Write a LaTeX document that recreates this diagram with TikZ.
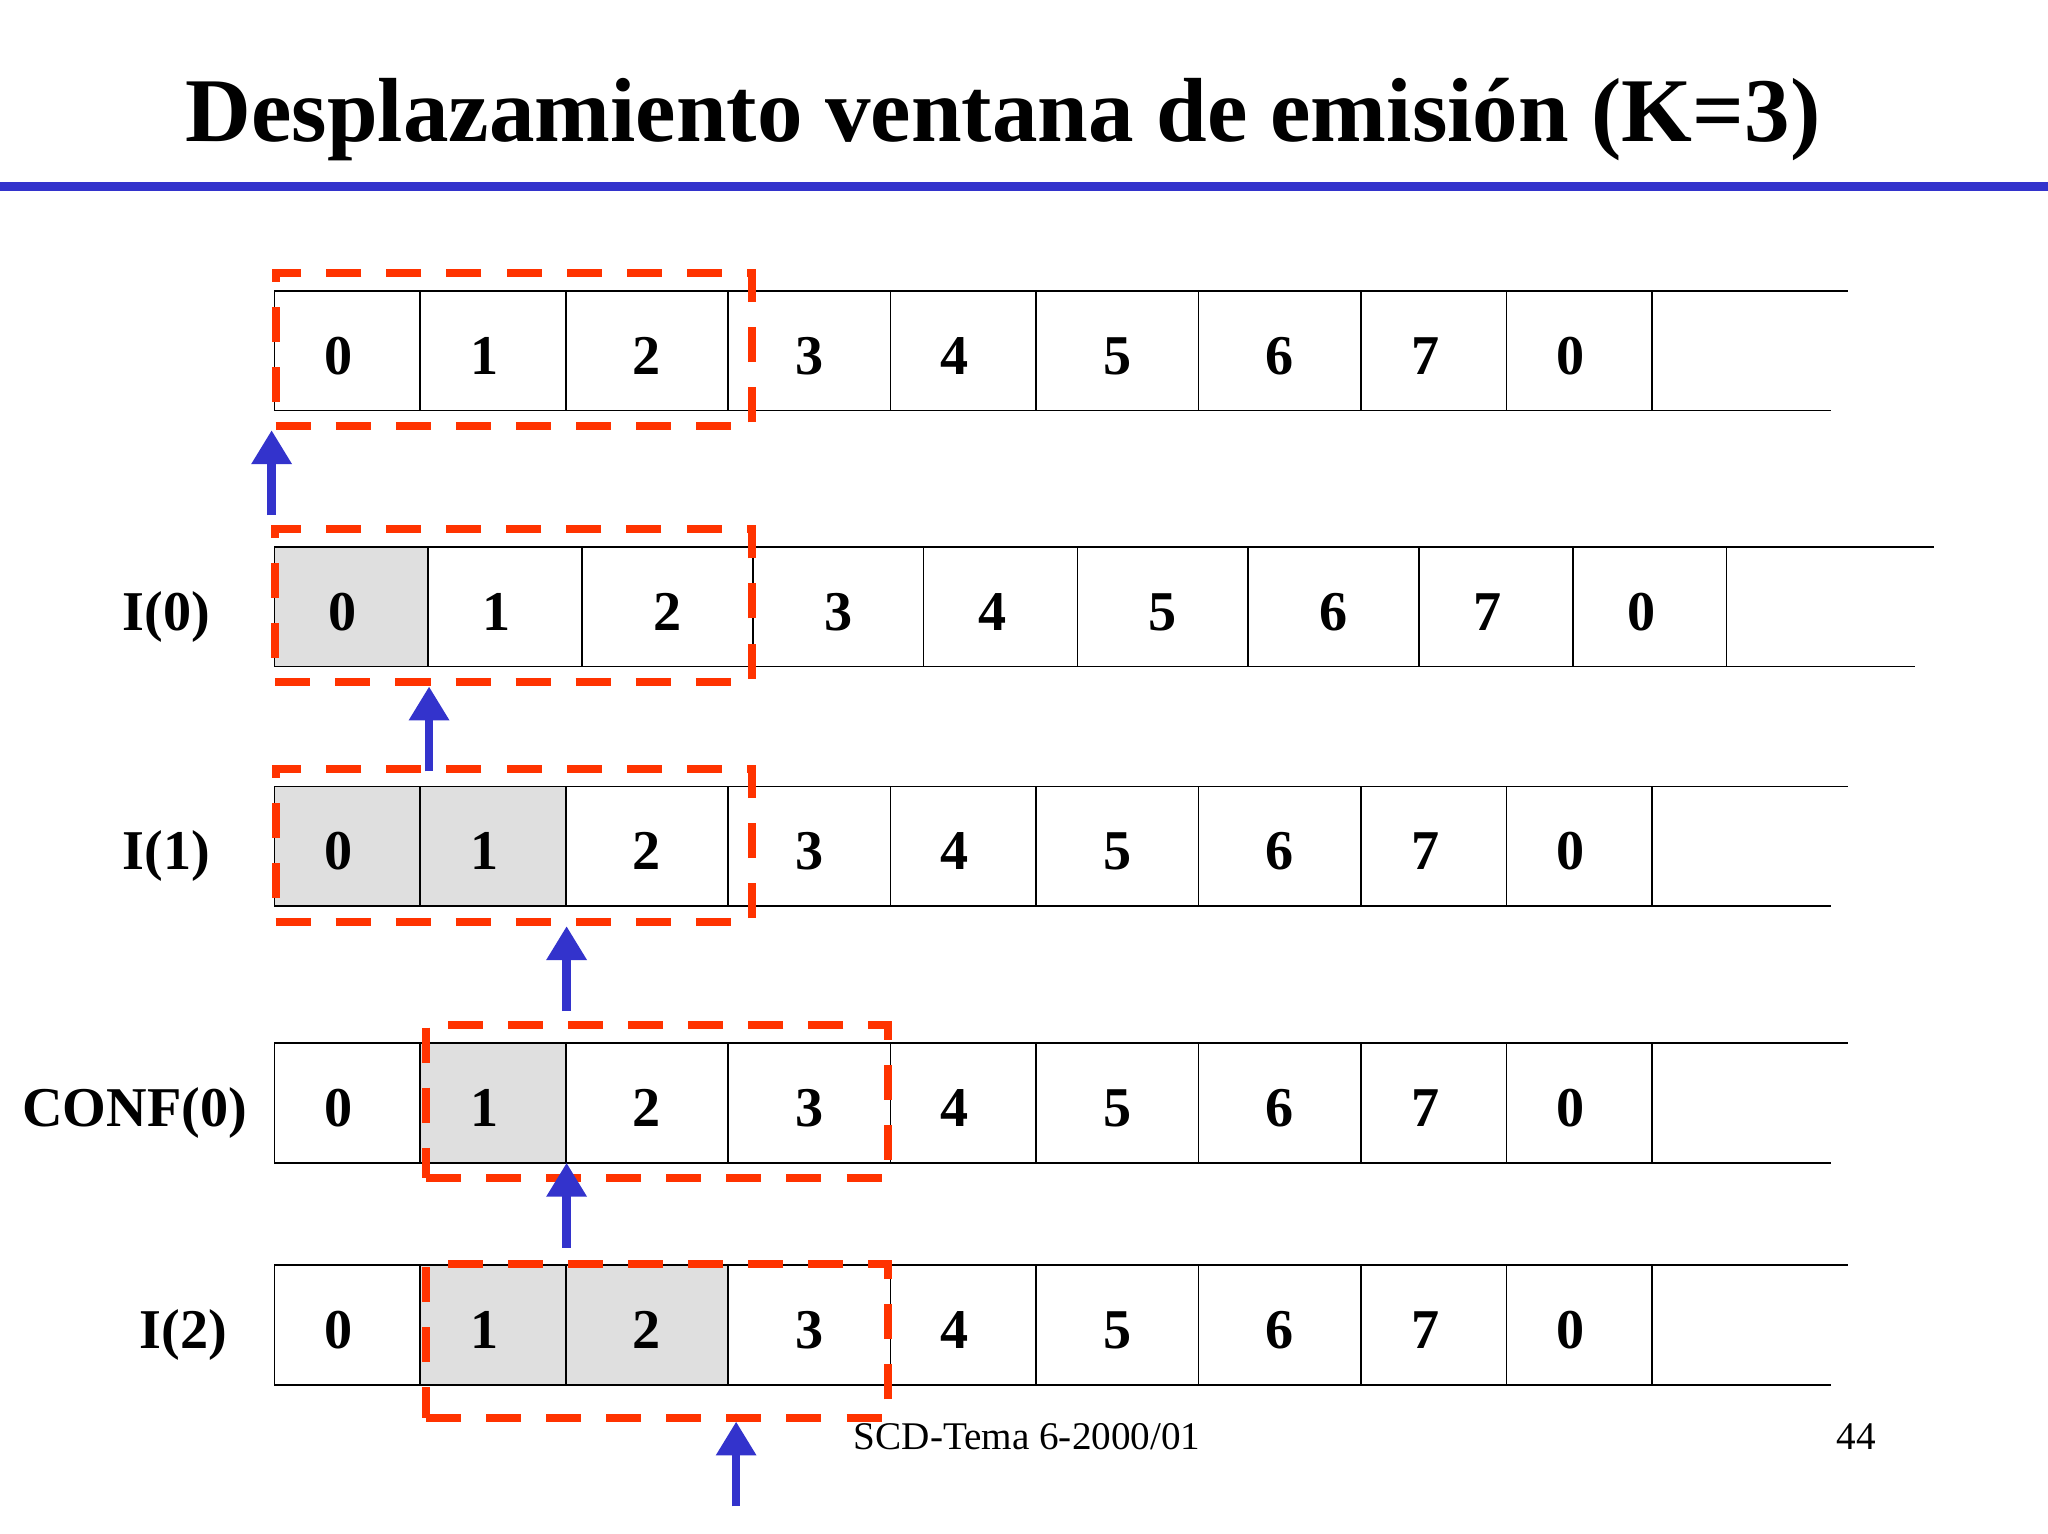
\documentclass[tikz,border=0pt]{standalone}
\usepackage{fontspec}
\setmainfont{Liberation Serif}
\usepackage{xcolor}
\usepackage{tikz}
\usetikzlibrary{
  arrows.meta,
  positioning
}
\definecolor{slideblue}{RGB}{51,51,204}
\definecolor{winred}{RGB}{255,51,0}

\begin{document}
\begin{tikzpicture}[x=1pt, y=-1pt, line width=1.2pt,
    field/.style={draw, rectangle, inner sep=0pt, outer ysep=0pt, minimum height=91.5, text height=36pt, text depth=0pt, font=\fontsize{43}{50}\selectfont\bfseries},
    slim/.style={field, minimum width=#1, execute at end node={\hspace*{13pt}}}, slim/.default=111.5,
    broad/.style={field, minimum width=#1}, broad/.default=124.3,
    sent/.style={fill=gray!25},
    tag/.style={inner sep=0pt, text height=36pt, text depth=0pt, font=\fontsize{43}{50}\selectfont\bfseries},
    window/.style={draw=winred, line width=6.1pt, dash pattern=on 26.8pt off 19.2pt, inner sep=0pt, minimum height=117.6},
    ptr/.style={draw=slideblue, line width=6.4pt, -{Triangle[width=29.4pt, length=26pt]}}]
\useasboundingbox (0,0) rectangle (1568,1174);
\fill[white] (0,0) rectangle (1568,1174);
% title
\node (title) [anchor=base, font=\fontsize{69.7}{80}\selectfont\bfseries] at (768,108.5) {Desplazamiento ventana de emisión (K=3)};
\draw[slideblue, line width=7pt] (0,142.6) -- (1568,142.6);

% row 1
\matrix (r1) [anchor=north west, inner sep=0pt, column sep=-\pgflinewidth, ampersand replacement=\&] at (209,221.5)
{
\node (r1-1) [slim] {0}; \& \node (r1-2) [slim] {1}; \& \node (r1-3) [broad] {2}; \& \node (r1-4) [broad] {3}; \& \node (r1-5) [slim] {4}; \&
\node (r1-6) [broad] {5}; \& \node (r1-7) [broad] {6}; \& \node (r1-8) [slim] {7}; \& \node (r1-9) [slim] {0}; \\
};
% row 2 (slightly wider)
\matrix (r2) [anchor=north west, inner sep=0pt, column sep=-\pgflinewidth, ampersand replacement=\&] at (209,417.6)
{
\node (r2-1) [slim=117.7, sent] {0}; \& \node (r2-2) [slim=117.7] {1}; \& \node (r2-3) [broad=130.8] {2}; \& \node (r2-4) [broad=130.8] {3}; \& \node (r2-5) [slim=117.7] {4}; \&
\node (r2-6) [broad=130.8] {5}; \& \node (r2-7) [broad=130.8] {6}; \& \node (r2-8) [slim=117.7] {7}; \& \node (r2-9) [slim=117.7] {0}; \\
};
% row 3
\matrix (r3) [anchor=north west, inner sep=0pt, column sep=-\pgflinewidth, ampersand replacement=\&] at (209,601)
{
\node (r3-1) [slim, sent] {0}; \& \node (r3-2) [slim, sent] {1}; \& \node (r3-3) [broad] {2}; \& \node (r3-4) [broad] {3}; \& \node (r3-5) [slim] {4}; \&
\node (r3-6) [broad] {5}; \& \node (r3-7) [broad] {6}; \& \node (r3-8) [slim] {7}; \& \node (r3-9) [slim] {0}; \\
};
% row 4
\matrix (r4) [anchor=north west, inner sep=0pt, column sep=-\pgflinewidth, ampersand replacement=\&] at (209,797.5)
{
\node (r4-1) [slim] {0}; \& \node (r4-2) [slim, sent] {1}; \& \node (r4-3) [broad] {2}; \& \node (r4-4) [broad] {3}; \& \node (r4-5) [slim] {4}; \&
\node (r4-6) [broad] {5}; \& \node (r4-7) [broad] {6}; \& \node (r4-8) [slim] {7}; \& \node (r4-9) [slim] {0}; \\
};
% row 5
\matrix (r5) [anchor=north west, inner sep=0pt, column sep=-\pgflinewidth, ampersand replacement=\&] at (209,967.5)
{
\node (r5-1) [slim] {0}; \& \node (r5-2) [slim, sent] {1}; \& \node (r5-3) [broad, sent] {2}; \& \node (r5-4) [broad] {3}; \& \node (r5-5) [slim] {4}; \&
\node (r5-6) [broad] {5}; \& \node (r5-7) [broad] {6}; \& \node (r5-8) [slim] {7}; \& \node (r5-9) [slim] {0}; \\
};

% open end of each row
\draw (r1-9.north east) -- ++(149,0);
\draw (r1-9.south east) -- ++(136,0);
\draw (r2-9.north east) -- ++(158,0);
\draw (r2-9.south east) -- ++(144,0);
\foreach \r in {r3,r4,r5} {
  \draw (\r-9.north east) -- ++(149,0);
  \draw (\r-9.south east) -- ++(136,0);
}

% row labels
\node (l2) [tag, left=48pt of r2-1] {I(0)};
\node (l3) [tag, left=48pt of r3-1] {I(1)};
\node (l4) [tag, left=20pt of r4-1] {CONF(0)};
\node (l5) [tag, left=35pt of r5-1] {I(2)};

% sending windows
\node (w1) [window, minimum width=365] at (393.5,267.5) {};
\node (w2) [window, minimum width=365] at (393.3,463.7) {};
\node (w3) [window, minimum width=365] at (393.5,647.2) {};
\node (w4) [window, minimum width=354] at (503.1,843.2) {};
\node (w5) [window, minimum width=354] at (503.1,1026.5) {};

% pointers
\coordinate (h1) at (w1.south west);
\coordinate (h2) at (w2.south -| r2-1.east);
\coordinate (h3) at (w3.south -| r3-2.east);
\coordinate (h4) at (r4-2.south east);
\coordinate (h5) at ([xshift=5.5pt]w5.south -| r5-3.east);
\foreach \i in {1,...,5}
  \draw[ptr] (h\i) ++(0,65) -- (h\i);

% footer
\node (foot) [anchor=base west, font=\fontsize{30}{36}\selectfont] at (649.8,1109.5) {SCD-Tema 6-2000/01};
\node (page) [anchor=base, font=\fontsize{30}{36}\selectfont] at (1421,1109.5) {44};
\end{tikzpicture}
\end{document}
